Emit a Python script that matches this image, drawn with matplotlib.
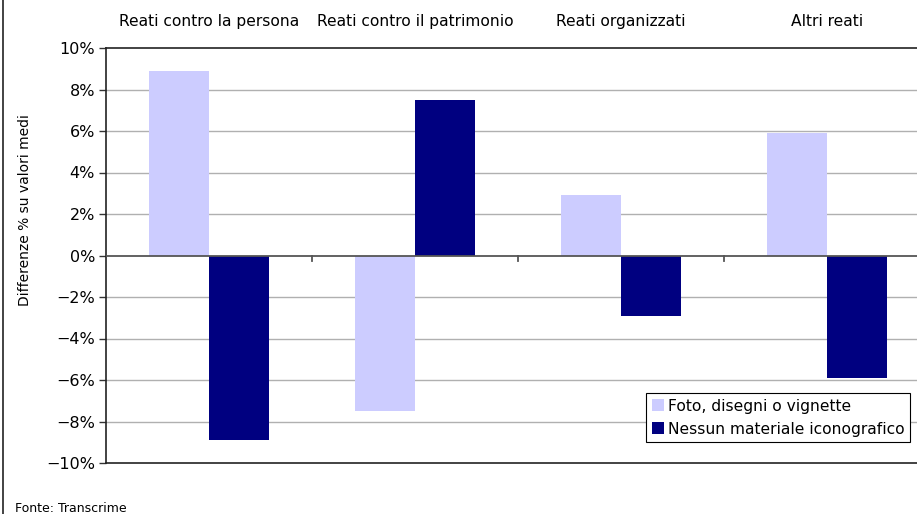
import numpy as np
import matplotlib.pyplot as plt
from matplotlib.lines import Line2D

categories = ['Reati contro la persona', 'Reati contro il patrimonio', 'Reati organizzati', 'Altri reati']
foto = [8.9, -7.5, 2.9, 5.9]
nessun = [-8.9, 7.5, -2.9, -5.9]
series_names = ['Foto, disegni o vignette', 'Nessun materiale iconografico']
yticks = [-10, -8, -6, -4, -2, 0, 2, 4, 6, 8, 10]
ytick_labels = ['\u221210%', '\u22128%', '\u22126%', '\u22124%', '\u22122%', '0%', '2%', '4%', '6%', '8%', '10%']

plt.rcParams['font.family'] = 'DejaVu Sans'
fig = plt.figure(figsize=(9.17, 5.14), dpi=100)
fig.set_facecolor('white')
ax = fig.add_axes([106/917, 51/514, 824/917, 415/514])

x = np.arange(len(categories))
w = 0.29
ax.bar(x - w/2, foto, w, color='#ccccff', label=series_names[0], zorder=3)
ax.bar(x + w/2, nessun, w, color='#000080', label=series_names[1], zorder=3)

ax.set_xlim(-0.5, 3.5)
ax.set_ylim(-10, 10)
ax.set_yticks(yticks)
ax.set_yticklabels(ytick_labels, fontsize=11.5)
ax.tick_params(axis='y', length=5, width=1, color='#333333', pad=3)
ax.set_xticks([])
for v in yticks[1:-1]:
    if v != 0:
        ax.axhline(v, color='#b0b0b0', linewidth=1, zorder=1)
ax.axhline(0, color='#555555', linewidth=1.3, zorder=4)
for b in [0.5, 1.5, 2.5]:
    ax.plot([b, b], [0, -0.25], color='#555555', linewidth=1.3, zorder=4, clip_on=False)

for s in ['left', 'top', 'bottom']:
    ax.spines[s].set_color('#222222')
    ax.spines[s].set_linewidth(1.2)
ax.spines['right'].set_visible(False)

for i, c in enumerate(categories):
    ax.text(i, 1.063, c, transform=ax.get_xaxis_transform(), ha='center', va='center', fontsize=11.2)

fig.text(25/917, 1 - 210/514, 'Differenze % su valori medi', rotation=90, ha='center', va='center', fontsize=10)
fig.text(15/917, 1 - 508/514, 'Fonte: Transcrime', ha='left', va='center', fontsize=9)
fig.add_artist(Line2D([3/917, 3/917], [0, 1], transform=fig.transFigure, color='#222222', linewidth=1.2))

leg = ax.legend(loc='lower right', bbox_to_anchor=(910/917, 72/514), bbox_transform=fig.transFigure,
                fontsize=11.2, frameon=True, fancybox=False, edgecolor='black', framealpha=1,
                handlelength=0.8, handleheight=0.8, handletextpad=0.25, borderpad=0.35, labelspacing=0.5,
                borderaxespad=0)
leg.get_frame().set_linewidth(0.8)
leg.set_zorder(5)

fig.savefig('out.png', dpi=100)
